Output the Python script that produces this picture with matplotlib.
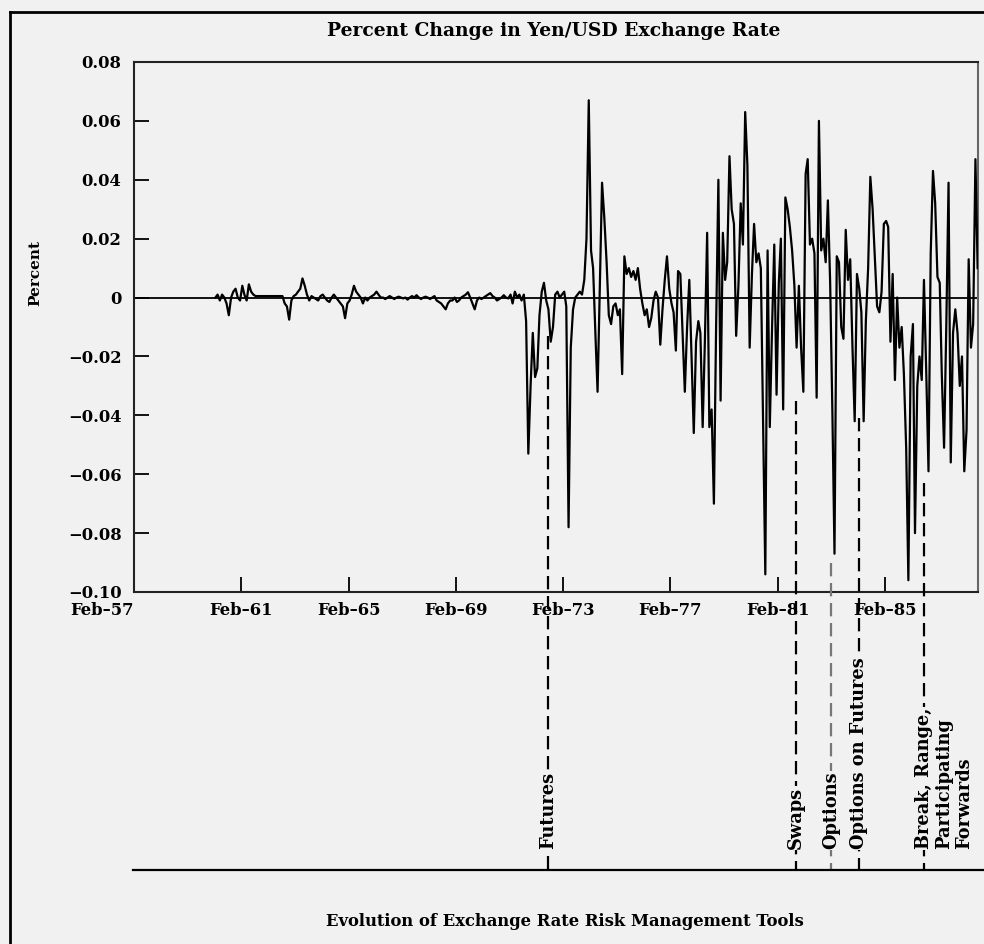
import matplotlib
matplotlib.use("Agg")
import matplotlib.pyplot as plt
from matplotlib.lines import Line2D
import matplotlib.dates as mdates
import pandas as pd
import datetime as dt

# ---------------- data (monthly % change, Yen/USD) ----------------
chg_1960_1965 = [0.000, 0.001, -0.001, 0.001, 0.000, -0.002, -0.006, 0.000, 0.002, 0.003,
                 0.000, -0.001, 0.004, 0.001, -0.001, 0.0045, 0.002, 0.001,
                 0.0005, 0.0005, 0.0005, 0.0005, 0.0005, 0.0005, 0.0005, 0.0005,
                 0.0005, 0.0005, 0.0005, 0.0005, 0.0005,
                 -0.002, -0.003, -0.0075, -0.001, 0.0005, 0.001, 0.002, 0.003, 0.0065,
                 0.004, 0.001, -0.001, 0.0005, 0.000, -0.0005, -0.001, 0.0005, 0.001,
                 0.000, -0.001, -0.0015, 0.000, 0.001, 0.000, -0.001, -0.002, -0.003,
                 -0.007, -0.002, -0.001, 0.001, 0.004, 0.002, 0.001, 0.000]
chg_1965_1970 = [-0.002, 0.000, -0.001, 0.000, 0.0005, 0.001, 0.002, 0.001, 0.000, 0.000,
                 -0.0005, 0.0, 0.0005, 0.0, -0.0005, 0.0, 0.0003, 0.0, -0.0003, 0.0,
                 -0.0007, 0.0, 0.0005, 0.0, 0.0008, 0.0, -0.0005, 0.0, 0.0003, 0.0,
                 -0.0005, 0.0, 0.0005, -0.001, -0.0015,
                 -0.002, -0.003, -0.004, -0.002, -0.001, -0.001, 0.000, -0.0015, -0.001,
                 0.000, 0.0005, 0.001, 0.0018, 0.000, -0.002, -0.004, -0.001, 0.000,
                 -0.0005, 0.000, 0.0005, 0.001, 0.0015, 0.0005, 0.000, -0.001, -0.0005,
                 0.000, 0.0008, 0.000, -0.0003]
chg_1971_1975 = [0.001, -0.002, 0.002, 0.000, 0.001, -0.001, 0.001, -0.008, -0.053, -0.030,
                 -0.012, -0.027, -0.024, -0.006, 0.002, 0.005, -0.001, -0.004, -0.015, -0.010,
                 0.001, 0.002, 0.000, 0.001, 0.002, -0.003, -0.078, -0.017, -0.004, 0.000,
                 0.001, 0.002, 0.001, 0.006, 0.020, 0.067, 0.016, 0.010, -0.012, -0.032,
                 0.004, 0.039, 0.027, 0.012, -0.006, -0.009, -0.003, -0.002, -0.006, -0.004,
                 -0.026, 0.014, 0.008, 0.010, 0.007, 0.009, 0.006, 0.010, 0.003, -0.002]
chg_1976_1980 = [-0.006, -0.004, -0.010, -0.007, -0.001, 0.002, 0.000, -0.016, -0.004, 0.006,
                 0.014, 0.003, -0.002, -0.005, -0.018, 0.009, 0.008, -0.012, -0.032, -0.010,
                 0.006, -0.020, -0.046, -0.015, -0.008, -0.012, -0.044, -0.015, 0.022, -0.044,
                 -0.038, -0.070, -0.010, 0.040, -0.035, 0.022, 0.006, 0.012, 0.048, 0.030,
                 0.025, -0.013, 0.004, 0.032, 0.018, 0.063, 0.045, -0.017, 0.008, 0.025,
                 0.012, 0.015, 0.010, -0.040, -0.094, 0.016, -0.044, -0.010, 0.018, -0.033]
chg_1981_1988 = [0.005, 0.020, -0.038, 0.034, 0.030, 0.024, 0.016, 0.004, -0.017, 0.004,
                 -0.017, -0.032, 0.042, 0.047, 0.018, 0.020, 0.015, -0.034, 0.060, 0.016,
                 0.020, 0.012, 0.033, 0.005, -0.040, -0.087, 0.014, 0.012, -0.010, -0.014,
                 0.023, 0.006, 0.013, -0.017, -0.042, 0.008, 0.003, -0.005, -0.042, -0.008,
                 0.010, 0.041, 0.030, 0.013, -0.003, -0.005, 0.002, 0.025, 0.026, 0.024,
                 -0.015, 0.008, -0.028, 0.000, -0.017, -0.010, -0.026, -0.051, -0.096, -0.020,
                 -0.009, -0.080, -0.030, -0.020, -0.028, 0.006, -0.025, -0.059, 0.015, 0.043,
                 0.032, 0.007, 0.005, -0.026, -0.051, -0.010, 0.039, -0.056, -0.012, -0.004,
                 -0.012, -0.030, -0.020, -0.059, -0.045, 0.013, -0.017, -0.009, 0.047, 0.010]
series_start = "1960-01-15"

ytick_values = [0.08, 0.06, 0.04, 0.02, 0.0, -0.02, -0.04, -0.06, -0.08, -0.10]
ytick_labels = ["0.08", "0.06", "0.04", "0.02", "0", "\u22120.02", "\u22120.04",
                "\u22120.06", "\u22120.08", "\u22120.10"]
xtick_years = [1957, 1961, 1965, 1969, 1973, 1977, 1981, 1985]
xtick_labels = ["Feb\u201357", "Feb\u201361", "Feb\u201365", "Feb\u201369", "Feb\u201373",
                "Feb\u201377", "Feb\u201381", "Feb\u201385"]

event_dates = ["1972-07-15", "1981-10-01", "1983-02-01", "1984-02-15", "1986-07-15"]
event_start = [-0.013, -0.035, -0.090, -0.041, -0.063]
event_labels = ["Futures", "Swaps", "Options", "Options on Futures",
                "Break, Range,\nParticipating\nForwards"]
event_colors = ["black", "black", "#777777", "black", "black"]

# ---------------- figure ----------------
W, H = 984, 944
BG = "#f1f1f1"
FONT = "DejaVu Serif"
plt.rcParams["font.family"] = FONT
plt.rcParams["font.weight"] = "bold"

fig = plt.figure(figsize=(W / 100, H / 100), dpi=100)
fig.patch.set_facecolor(BG)

def fx(p):
    return p / W

def fy(p):
    return 1 - p / H

ax = fig.add_axes([fx(134), fy(592), (978 - 134) / W, (592 - 62) / H])
ax.set_facecolor(BG)

values = chg_1960_1965 + chg_1965_1970 + chg_1971_1975 + chg_1976_1980 + chg_1981_1988
dates = pd.date_range(series_start, periods=len(values), freq="MS") + pd.Timedelta(days=14)

ax.axhline(0, color="black", lw=1.3, zorder=2)
ax.plot(dates, values, color="black", lw=1.6, zorder=3)

ax.set_xlim(dt.datetime(1957, 2, 1), dt.datetime(1988, 7, 20))
ax.set_ylim(-0.10, 0.08)

ax.set_yticks(ytick_values)
ax.set_yticklabels(ytick_labels, fontweight="bold")
ax.set_xticks([dt.datetime(y, 2, 1) for y in xtick_years])
ax.set_xticklabels(xtick_labels, fontweight="bold")
ax.xaxis.get_majorticklabels()[0].set_horizontalalignment("right")

ax.tick_params(axis="both", direction="in", length=11, width=1.3, labelsize=11.8,
               colors="black")
ax.tick_params(axis="y", pad=9)
ax.tick_params(axis="x", pad=7)
for s in ax.spines.values():
    s.set_linewidth(1.5)
    s.set_color("#222222")
ax.spines["right"].set_color("#666666")

# ---------------- event lines & labels ----------------
fig.canvas.draw()
to_fig = ax.transData + fig.transFigure.inverted()
base_y = fy(870)
for d, ys, lab, col in zip(event_dates, event_start, event_labels, event_colors):
    xn = mdates.date2num(pd.Timestamp(d))
    xf, yf = to_fig.transform((xn, ys))
    fig.add_artist(Line2D([xf, xf], [yf, base_y], transform=fig.transFigure,
                          color=col, lw=1.6, ls=(0, (6, 3)), zorder=1))
    if "\n" in lab:
        fig.text(xf - fx(9), fy(849), lab, rotation=90, ha="left", va="bottom",
                 multialignment="left", fontsize=12.8, linespacing=1.15,
                 bbox=dict(fc=BG, ec="none", pad=0.5), zorder=5)
    else:
        fig.text(xf, fy(849), lab, rotation=90, ha="center", va="bottom",
                 fontsize=12.8, bbox=dict(fc=BG, ec="none", pad=0.5), zorder=5)

# baseline of the tools timeline
fig.add_artist(Line2D([fx(133), 1.0], [base_y, base_y], transform=fig.transFigure,
                      color="black", lw=1.6))

# outer frame
fig.add_artist(Line2D([fx(10), fx(10)], [0, fy(12)], transform=fig.transFigure,
                      color="black", lw=2))
fig.add_artist(Line2D([fx(10), 1.0], [fy(12), fy(12)], transform=fig.transFigure,
                      color="black", lw=2))

# titles
fig.text(fx(554), fy(31), "Percent Change in Yen/USD Exchange Rate", ha="center",
         va="center", fontsize=13.5)
fig.text(fx(565), fy(922), "Evolution of Exchange Rate Risk Management Tools",
         ha="center", va="center", fontsize=11.8)
fig.text(fx(35), fy(273), "Percent", rotation=90, ha="center", va="center",
         fontsize=11)

fig.savefig("out.png", dpi=100, facecolor=BG)
